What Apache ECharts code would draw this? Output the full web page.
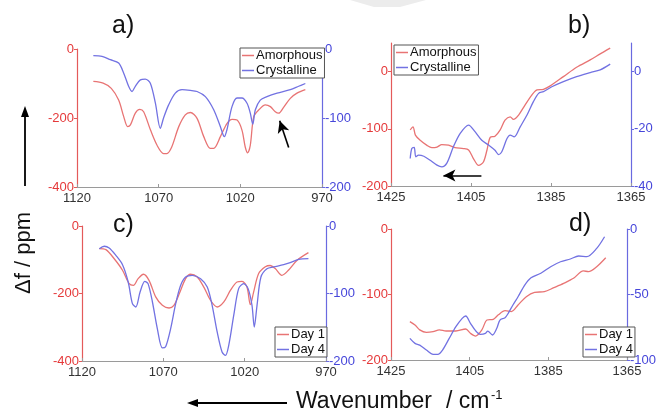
<!DOCTYPE html>
<html>
<head>
<meta charset="UTF-8">
<title>IR difference spectra</title>
<script src="https://cdn.jsdelivr.net/npm/echarts@6/dist/echarts.min.js"></script>
<style>
  html, body { margin: 0; padding: 0; background: #fff; }
  #charts { width: 659px; height: 414px; }
</style>
</head>
<body>
<div id="charts"></div>
<script type="text/javascript">

	// panel a) 1120-970 cm-1, amorphous vs crystalline
	var aAmorX = [1110, 1104, 1099, 1094.5, 1091.4, 1089, 1087.3, 1084.3, 1081.6, 1079.2, 1075, 1071, 1067, 1065, 1062, 1057.7, 1053.7, 1050.6, 1046.5, 1042.4, 1038.4, 1036.3, 1032.2, 1028.2, 1025, 1022, 1019, 1017, 1015.5, 1013.9, 1011.8, 1008.8, 1004.7, 1001.6, 998.6, 996.5, 993.5, 989.4, 985.3, 980.2];
	var aAmorY = [-94, -99, -114, -148, -196, -225, -220, -186, -175, -182, -235, -279, -303, -303, -284, -225, -191, -184, -201, -254, -288, -288, -254, -216, -204, -206, -235, -284, -301, -279, -196, -177, -162, -167, -182, -186, -169, -143, -128, -118];
	var aCrysX = [1110, 1104.7, 1099.6, 1094.5, 1091.4, 1088.4, 1086.3, 1084.3, 1081.2, 1078.2, 1075.1, 1072, 1069, 1067, 1063.9, 1059.8, 1055.7, 1050.6, 1046.5, 1041.4, 1036.3, 1032.2, 1029.8, 1028.2, 1025.1, 1022, 1019, 1015.9, 1013.9, 1012.4, 1010.8, 1007.8, 1003.7, 997.5, 989.4, 984.3, 980.2];
	var aCrysY = [-9.7, -10.7, -15.5, -20.4, -35, -54, -61.6, -54, -44.7, -43.7, -49.5, -78.6, -115, -100, -81, -64, -59, -60, -61.6, -69, -88, -112.6, -127, -117, -83.5, -71, -71, -78.6, -93, -109, -88, -74, -69, -64, -59, -54, -50];

	// panel b) 1425-1365 cm-1, amorphous vs crystalline
	var bAmorX = [1420.2, 1419.5, 1418.9, 1417.7, 1416, 1414.8, 1413.5, 1412.3, 1410.6, 1409, 1406.9, 1405.6, 1404.4, 1403.1, 1401.9, 1401, 1400.2, 1399, 1397.7, 1396.5, 1395.2, 1394.4, 1393.1, 1391.5, 1389.8, 1388.5, 1386.9, 1385.2, 1381.9, 1378.6, 1375.2, 1372.7, 1370.2];
	var bAmorY = [-102, -96.5, -111, -120, -129, -133, -132, -127.5, -128.7, -133, -134.5, -137, -152, -164, -158, -137, -115, -113, -102, -85, -79, -83.6, -76, -58.5, -41, -32, -31, -25, -8.8, 7.6, 20.5, 31, 41];
	var bCrysX = [1420.2, 1419.8, 1419.2, 1418.8, 1418.1, 1416.8, 1415.2, 1413.5, 1412.3, 1411, 1409.4, 1407.7, 1405.6, 1404, 1402.3, 1400.6, 1399, 1398.1, 1397.3, 1396, 1395.2, 1394.2, 1392.7, 1391, 1389.4, 1388.1, 1386.9, 1384.8, 1381.9, 1378.6, 1375.2, 1372.7, 1370.2];
	var bCrysY = [-30.4, -26.9, -26.5, -29.8, -29.2, -29.6, -31, -32.7, -33.3, -31.9, -26.3, -21.6, -18.7, -21, -24, -25.7, -27.5, -29, -28, -23.4, -22.2, -22.8, -19.3, -15.2, -10.5, -7.6, -7, -5.3, -3.5, -1.75, -0.35, 0.6, 2.6];

	// panel c) 1120-970 cm-1, day 1 vs day 4
	var cDay1X = [1109.4, 1105.3, 1100.2, 1095.1, 1091, 1088.4, 1085.5, 1082.2, 1078.8, 1074.7, 1070.6, 1066.5, 1063.5, 1060.4, 1056.3, 1053.3, 1049.2, 1045.1, 1041, 1036.9, 1032.8, 1028.8, 1024.7, 1021.6, 1018.6, 1016.5, 1014.5, 1011.4, 1007.3, 1004.3, 1001.2, 997.1, 993.1, 987.9, 980.8];
	var cDay1Y = [-67, -70, -97, -131, -171, -176, -156, -143, -161, -210, -235, -243, -235, -203, -156, -143, -151, -181, -220, -240, -225, -191, -166, -164, -181, -233, -196, -141, -121, -117, -126, -146, -131, -102, -79];
	var cDay4X = [1109.4, 1106.3, 1103.3, 1099.2, 1095.1, 1091.6, 1089, 1086.9, 1084.3, 1081.4, 1079.4, 1076.7, 1073.7, 1070.6, 1068.6, 1065.5, 1062.4, 1059.4, 1056.3, 1052.2, 1047.1, 1043, 1040, 1036.9, 1033.9, 1031.8, 1029.8, 1026.7, 1023.7, 1020.6, 1017.9, 1015.5, 1014.1, 1012.4, 1010, 1006.3, 1002.2, 996, 992, 986.9, 980.8];
	var cDay4Y = [-33.6, -30, -32.6, -43.5, -57.3, -83, -115, -120, -97.8, -82, -85.4, -112.6, -152, -180.7, -179, -152, -115, -88, -75.5, -73, -78, -90.4, -117.5, -157, -186.7, -191.6, -176.8, -132, -92.8, -85.4, -92.8, -117.5, -149.6, -117.5, -75.5, -63.2, -60.7, -57.3, -54.3, -49.4, -48.4];

	// panel d) 1425-1365 cm-1, day 1 vs day 4
	var dDay1X = [1420.2, 1418.9, 1417.7, 1416, 1414.3, 1412.7, 1411, 1408.5, 1406, 1404.8, 1403.5, 1401.9, 1400.6, 1399, 1397.7, 1396, 1394.4, 1392.7, 1390.6, 1388.5, 1386, 1383.6, 1381.1, 1378.6, 1376.1, 1374.8, 1372.7, 1370.4];
	var dDay1Y = [-141.5, -146.6, -154, -157.8, -156.7, -154, -155.7, -155.7, -152.7, -159.3, -163.4, -154, -139, -138, -131, -124.7, -126, -116, -103.3, -96.7, -95.7, -89.6, -83, -75.3, -64, -65, -57.5, -43.8];
	var dDay4X = [1420.2, 1418.9, 1417.7, 1416, 1414.3, 1413.1, 1411.9, 1410.2, 1408.5, 1406.9, 1406, 1404.8, 1403.5, 1402.3, 1401, 1400.4, 1399.2, 1398.1, 1397.3, 1396, 1395.2, 1394, 1392.7, 1391, 1389.4, 1386.9, 1384.4, 1381.9, 1379.4, 1377.3, 1375.2, 1372.7, 1370.7];
	var dDay4Y = [-83.5, -87.3, -88.6, -92.4, -95.7, -95.7, -92.4, -83.5, -74.6, -68.2, -66.4, -72, -77.6, -80.4, -79.7, -77.9, -80.9, -75.8, -69.5, -67.7, -64.4, -58, -51.7, -42.8, -37.2, -33.8, -28.8, -25, -22.9, -20.6, -21.1, -14.8, -5.9];

	// annotation arrows (data coordinates)
	var arrowA = [[990.4, -285.5], [995.9, -207.8]];
	var arrowB = [[1402.4, -36.3], [1411.9, -36.3]];

	var RED = '#e87474';
	var BLUE = '#7272e2';
	var RED_TXT = '#e5393a';
	var BLUE_TXT = '#4646da';
	var FONT = '"Liberation Sans", Arial, sans-serif';

	function pairs(xs, ys) {
		var out = [];
		for (var i = 0; i < xs.length; i++) {
			out.push([xs[i], ys[i]]);
		}
		return out;
	}

	function plain(v) {
		return String(v);
	}

	function xAxis(grid, min, max, interval) {
		return {
			type : 'value',
			gridIndex : grid,
			inverse : true,
			min : min,
			max : max,
			interval : interval,
			axisLine : { onZero : false, lineStyle : { color : '#9a9a9a', width : 1 } },
			axisTick : { inside : true, length : 3, lineStyle : { color : '#9a9a9a' } },
			axisLabel : { color : '#333', fontSize : 13, fontFamily : FONT, margin : 5, formatter : plain },
			splitLine : { show : false }
		};
	}

	function yAxis(grid, side, min, max, interval, color, txt) {
		return {
			type : 'value',
			gridIndex : grid,
			position : side,
			min : min,
			max : max,
			interval : interval,
			axisLine : { show : true, onZero : false, lineStyle : { color : color, width : 1.2 } },
			axisTick : { show : true, length : 3, lineStyle : { color : color } },
			axisLabel : { color : txt, fontSize : 13, fontFamily : FONT, margin : 3, formatter : plain, showMaxLabel : (max === 0) },
			splitLine : { show : false }
		};
	}

	function line(name, xi, yi, data, color) {
		return {
			name : name,
			type : 'line',
			xAxisIndex : xi,
			yAxisIndex : yi,
			data : data,
			showSymbol : false,
			smooth : 0.3,
			lineStyle : { color : color, width : 1.3 },
			itemStyle : { color : color },
			z : 3
		};
	}

	function arrowMark(pts) {
		return {
			silent : true,
			symbol : [ 'none', 'arrow' ],
			symbolSize : [ 9, 12 ],
			label : { show : false },
			lineStyle : { color : '#000', width : 1.6, type : 'solid' },
			data : [ [ { coord : pts[0] }, { coord : pts[1] } ] ]
		};
	}

	function legend(names, left, top) {
		return {
			data : names,
			orient : 'vertical',
			left : left,
			top : top,
			icon : 'rect',
			itemWidth : 12,
			itemHeight : 1.5,
			itemGap : 2,
			padding : [ 1, 2, 1, 2 ],
			borderColor : '#555',
			borderWidth : 1,
			backgroundColor : '#fff',
			textStyle : { color : '#111', fontSize : 13, fontFamily : FONT, padding : [ 0, 0, 0, -3 ] },
			selectedMode : false
		};
	}

	var chart = echarts.init(document.getElementById('charts'));

	var seriesA1 = line('Amorphous', 0, 0, pairs(aAmorX, aAmorY), RED);
	seriesA1.markLine = arrowMark(arrowA);
	var seriesB2 = line('Crystalline', 1, 3, pairs(bCrysX, bCrysY), BLUE);
	seriesB2.markLine = arrowMark(arrowB);

	var option = {
		animation : false,
		backgroundColor : '#fff',
		textStyle : { fontFamily : FONT },
		grid : [
			{ left : 77, right : 337, top : 49, bottom : 227 },
			{ left : 391, right : 28, top : 43, bottom : 228 },
			{ left : 82, right : 333, top : 226, bottom : 53 },
			{ left : 391, right : 28, top : 229, bottom : 54 }
		],
		xAxis : [
			xAxis(0, 970, 1120, 50),
			xAxis(1, 1365, 1425, 20),
			xAxis(2, 970, 1120, 50),
			xAxis(3, 1365, 1425, 20)
		],
		yAxis : [
			yAxis(0, 'left', -400, 0, 200, '#e45a5a', RED_TXT),
			yAxis(0, 'right', -200, 0, 100, '#6a6ae0', BLUE_TXT),
			yAxis(1, 'left', -200, 50, 100, '#e45a5a', RED_TXT),
			yAxis(1, 'right', -40, 10, 20, '#6a6ae0', BLUE_TXT),
			yAxis(2, 'left', -400, 0, 200, '#e45a5a', RED_TXT),
			yAxis(2, 'right', -200, 0, 100, '#6a6ae0', BLUE_TXT),
			yAxis(3, 'left', -200, 0, 100, '#e45a5a', RED_TXT),
			yAxis(3, 'right', -100, 0, 50, '#6a6ae0', BLUE_TXT)
		],
		legend : [
			legend([ 'Amorphous', 'Crystalline' ], 240, 48),
			legend([ 'Amorphous', 'Crystalline' ], 394, 45),
			legend([ 'Day 1', 'Day 4' ], 275, 327),
			legend([ 'Day 1', 'Day 4' ], 583, 327)
		],
		series : [
			seriesA1,
			line('Crystalline', 0, 1, pairs(aCrysX, aCrysY), BLUE),
			line('Amorphous', 1, 2, pairs(bAmorX, bAmorY), RED),
			seriesB2,
			line('Day 1', 2, 4, pairs(cDay1X, cDay1Y), RED),
			line('Day 4', 2, 5, pairs(cDay4X, cDay4Y), BLUE),
			line('Day 1', 3, 6, pairs(dDay1X, dDay1Y), RED),
			line('Day 4', 3, 7, pairs(dDay4X, dDay4Y), BLUE)
		],
		graphic : [
			// faint grey mark at the top edge of the scan
			{ type : 'polygon', shape : { points : [ [ 350, 0 ], [ 426, 0 ], [ 400, 7 ], [ 374, 7 ] ] }, style : { fill : '#ececec' }, silent : true },
			// panel letters
			{ type : 'text', x : 112, y : 14, style : { text : 'a)', font : '25px ' + FONT, fill : '#111' } },
			{ type : 'text', x : 568, y : 14, style : { text : 'b)', font : '25px ' + FONT, fill : '#111' } },
			{ type : 'text', x : 113, y : 213, style : { text : 'c)', font : '25px ' + FONT, fill : '#111' } },
			{ type : 'text', x : 569, y : 212, style : { text : 'd)', font : '25px ' + FONT, fill : '#111' } },
			// y title with upward arrow
			{ type : 'line', shape : { x1 : 25, y1 : 186, x2 : 25, y2 : 114 }, style : { stroke : '#000', lineWidth : 1.8 } },
			{ type : 'polygon', shape : { points : [ [ 25, 106 ], [ 21, 117 ], [ 29, 117 ] ] }, style : { fill : '#000' } },
			{ type : 'text', x : 24, y : 253, rotation : Math.PI / 2,
			  style : { text : 'Δf / ppm', font : '22px ' + FONT, fill : '#111', align : 'center', verticalAlign : 'middle' } },
			// x title with leftward arrow
			{ type : 'line', shape : { x1 : 287, y1 : 403, x2 : 196, y2 : 403 }, style : { stroke : '#000', lineWidth : 1.8 } },
			{ type : 'polygon', shape : { points : [ [ 187, 403 ], [ 198, 399 ], [ 198, 407 ] ] }, style : { fill : '#000' } },
			{ type : 'text', x : 296, y : 402, style : { text : 'Wavenumber', font : '23px ' + FONT, fill : '#111', verticalAlign : 'middle' } },
			{ type : 'text', x : 446, y : 402, style : { text : '/ cm', font : '23px ' + FONT, fill : '#111', verticalAlign : 'middle' } },
			{ type : 'text', x : 491, y : 395, style : { text : '-1', font : '13px ' + FONT, fill : '#111', verticalAlign : 'middle' } }
		]
	};

	chart.setOption(option);
</script>
</body>
</html>
